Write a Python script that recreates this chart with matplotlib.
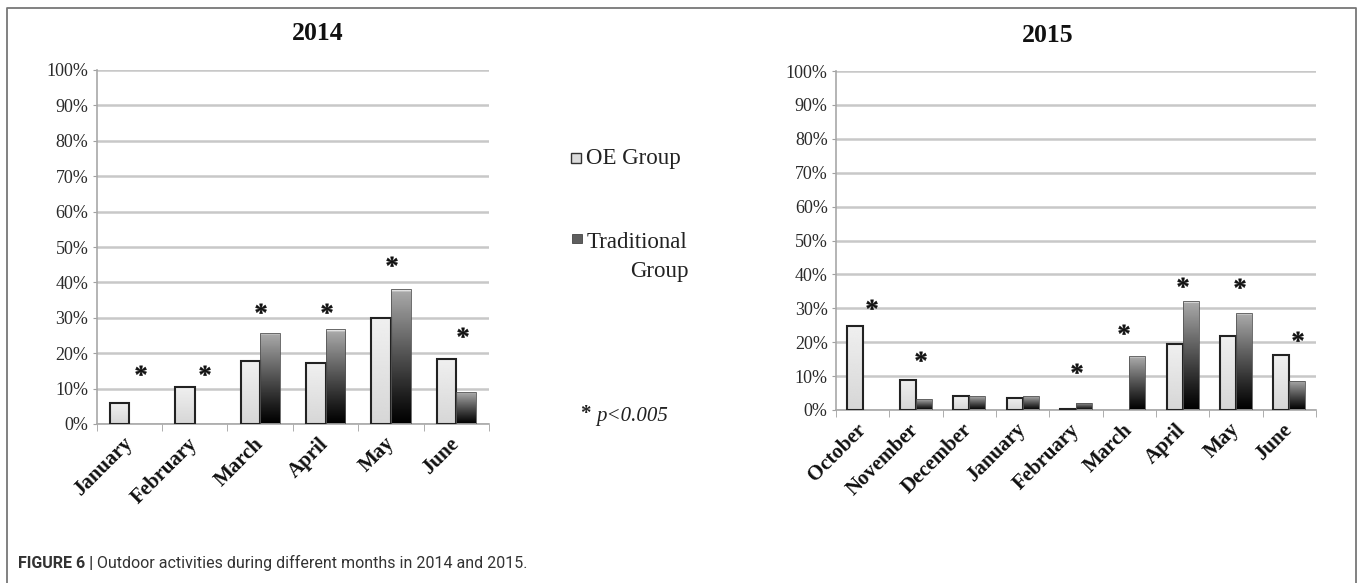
import numpy as np
import matplotlib
matplotlib.use("Agg")
import matplotlib.pyplot as plt
import matplotlib.transforms as mtransforms
from matplotlib.lines import Line2D
from matplotlib.patches import Rectangle
from matplotlib.textpath import TextPath
from matplotlib.font_manager import FontProperties
from matplotlib.path import Path

plt.rcParams['font.family'] = ['Liberation Serif', 'DejaVu Serif']

# data (percent of children doing outdoor activities)
months_2014 = ['January', 'February', 'March', 'April', 'May', 'June']
oe_2014 = [5.8, 10.5, 17.7, 17.2, 29.9, 18.3]
trad_2014 = [0, 0, 25.8, 26.8, 38.2, 8.9]
# significance stars: (offset from group centre, height in %)
star_dx_2014 = [0.16, 0.14, 0.0, 0.0, 0.0, 0.08]
star_y_2014 = [14.1, 14.1, 31.5, 31.5, 44.8, 24.8]

months_2015 = ['October', 'November', 'December', 'January', 'February',
               'March', 'April', 'May', 'June']
oe_2015 = [24.9, 8.9, 4.1, 3.6, 0.4, 0, 19.4, 21.9, 16.2]
trad_2015 = [0, 3.2, 4.1, 4.1, 2.2, 15.8, 32.2, 28.7, 8.7]
star_dx_2015 = [0.16, 0.07, None, None, 0.0, -0.12, -0.02, 0.05, 0.15]
star_y_2015 = [30.1, 14.7, None, None, 11.3, 22.7, 36.7, 36.3, 20.6]

yticks = [0, 10, 20, 30, 40, 50, 60, 70, 80, 90, 100]
ytick_labels = ['0%', '10%', '20%', '30%', '40%', '50%', '60%', '70%', '80%', '90%', '100%']

W, H = 1358, 583
fig = plt.figure(figsize=(W / 100, H / 100), dpi=100)


def px(x0, y0, x1, y1):
    # pixel box -> figure fraction rectangle
    return [x0 / W, 1 - y1 / H, (x1 - x0) / W, (y1 - y0) / H]


# asterisk marker centred on its own ink
tp = TextPath((0, 0), '*', prop=FontProperties(family='Liberation Serif', weight='bold'))
v = tp.vertices.copy()
v = v - (v.min(0) + v.max(0)) / 2
star = Path(v, tp.codes)

t = np.linspace(0, 1, 200)[:, None]
grad_oe = 0.94 - 0.10 * t
grad_trad = 0.68 * (1 - t) ** 1.1
grad_trad[:5] = 0.88


def draw_panel(ax, months, oe, trad, sdx, sy):
    n = len(months)
    idx = np.arange(n)
    w = 0.3
    b1 = ax.bar(idx - w / 2, oe, w, facecolor='none', edgecolor='#222222', linewidth=1.5, zorder=3)
    b2 = ax.bar(idx + w / 2, trad, w, facecolor='none', edgecolor='#555555', linewidth=0.6, zorder=3)
    for bars, grad in [(b1, grad_oe), (b2, grad_trad)]:
        for p in bars:
            if p.get_height() <= 0:
                p.set_visible(False)
                continue
            x0, y0 = p.get_x(), p.get_y()
            im = ax.imshow(grad, extent=[x0, x0 + p.get_width(), y0, y0 + p.get_height()],
                           cmap='gray', vmin=0, vmax=1, aspect='auto',
                           interpolation='bilinear', zorder=2.5)
            im.set_clip_path(p)
    for i in range(n):
        if sy[i] is not None:
            ax.plot(i + sdx[i], sy[i], marker=star, ms=12.5, mew=0.3, color='#111111', ls='none', zorder=4)

    ax.set_xlim(-0.5, n - 0.5)
    ax.set_ylim(0, 100)
    ax.set_yticks(yticks)
    ax.set_yticklabels(ytick_labels, fontsize=13, color='#2a2a2a')
    ax.set_xticks(idx)
    ax.set_xticks(np.arange(n + 1) - 0.5, minor=True)
    labels = ax.set_xticklabels(months, rotation=45, ha='right', va='center',
                                rotation_mode='anchor', fontsize=15, fontweight='bold',
                                color='#111111')
    off = mtransforms.ScaledTranslation(5 / 100, 0, fig.dpi_scale_trans)
    for lb in labels:
        lb.set_transform(lb.get_transform() + off)
    ax.tick_params(axis='x', which='major', length=0, pad=12)
    ax.tick_params(axis='x', which='minor', length=5, color='#a0a0a0', direction='out')
    ax.tick_params(axis='y', length=3, color='#a0a0a0', pad=3)
    ax.yaxis.grid(True, color='#c8c8c8', linewidth=1.8, zorder=0)
    ax.set_axisbelow(True)
    for s in ['top', 'right']:
        ax.spines[s].set_visible(False)
    for s in ['left', 'bottom']:
        ax.spines[s].set_color('#a8a8a8')
        ax.spines[s].set_linewidth(1.2)


ax1 = fig.add_axes(px(96.7, 70, 489, 424))
draw_panel(ax1, months_2014, oe_2014, trad_2014, star_dx_2014, star_y_2014)
ax2 = fig.add_axes(px(836, 71, 1316, 410))
draw_panel(ax2, months_2015, oe_2015, trad_2015, star_dx_2015, star_y_2015)

fig.text(318 / W, 1 - 33 / H, '2014', fontsize=18.5, fontweight='bold', ha='center', va='center', color='#111111')
fig.text(1048 / W, 1 - 35 / H, '2015', fontsize=18.5, fontweight='bold', ha='center', va='center', color='#111111')

# legend in the middle
fig.add_artist(Rectangle((571 / W, 1 - 163 / H), 10 / W, 10 / H, transform=fig.transFigure,
                         facecolor='#dcdcdc', edgecolor='#333333', linewidth=1))
fig.text(586 / W, 1 - 158 / H, 'OE Group', fontsize=16.5, ha='left', va='center', color='#222222')
fig.add_artist(Rectangle((572 / W, 1 - 243 / H), 10 / W, 9 / H, transform=fig.transFigure,
                         facecolor='#5e5e5e', edgecolor='#444444', linewidth=0.6))
fig.text(587 / W, 1 - 243 / H, 'Traditional', fontsize=16.5, ha='left', va='center', color='#222222')
fig.text(689 / W, 1 - 272 / H, 'Group', fontsize=16.5, ha='right', va='center', color='#222222')
fig.text(585 / W, 1 - 414 / H, '*', fontsize=15, fontweight='bold', ha='center', va='center', color='#222222')
fig.text(596 / W, 1 - 417 / H, 'p<0.005', fontsize=15, style='italic', ha='left', va='center', color='#222222')

# caption
cap_font = ['Roboto', 'DejaVu Sans']
c1 = fig.text(18 / W, 1 - 563 / H, 'FIGURE 6 |', fontsize=11.5, fontweight='bold', family=cap_font,
              ha='left', va='center', color='#333333')
r = fig.canvas.get_renderer()
bb = c1.get_window_extent(renderer=r)
fig.text((bb.x1 + 4) / W, 1 - 563 / H, 'Outdoor activities during different months in 2014 and 2015.',
         fontsize=11.5, family=cap_font, ha='left', va='center', color='#333333')

# outer frame (open at the bottom)
fig.add_artist(Line2D([7 / W, 7 / W, 1356 / W, 1356 / W], [0, 1 - 8 / H, 1 - 8 / H, 0],
                      transform=fig.transFigure, color='#777777', linewidth=1.3))

fig.savefig('out.png', dpi=100)
